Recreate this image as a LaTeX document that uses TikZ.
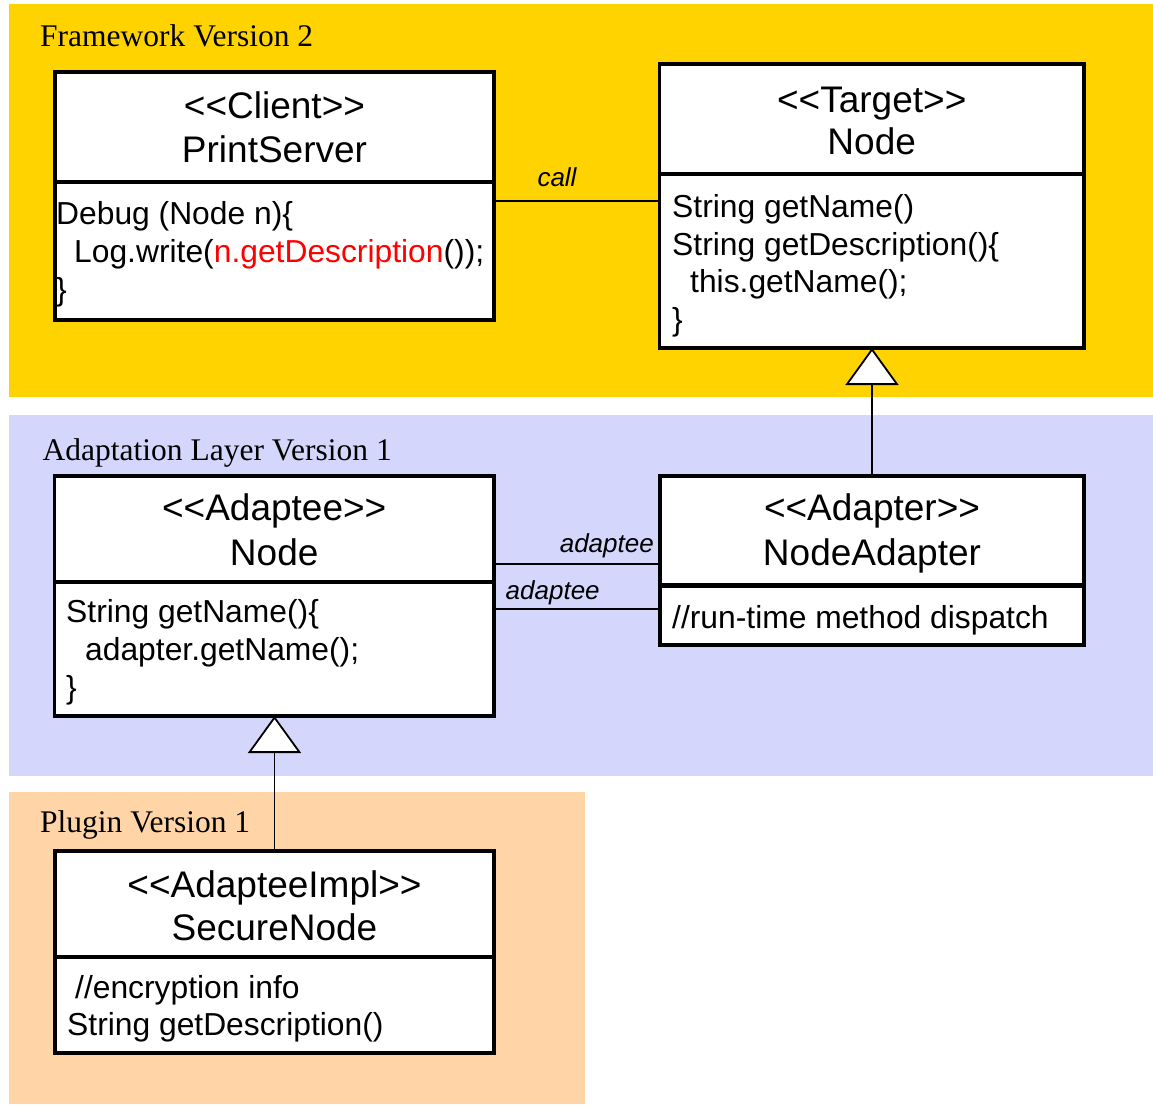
\documentclass[tikz,border=0pt]{standalone}
\usepackage{fontspec}
\setmainfont{Liberation Serif}
\setsansfont{Liberation Sans}
\usetikzlibrary{arrows.meta,calc}
\definecolor{fwyellow}{RGB}{255,211,0}
\definecolor{adlav}{RGB}{213,214,251}
\definecolor{plpeach}{RGB}{255,213,168}
\newcommand{\lsq}{\textless\kern0pt\textless}
\newcommand{\rsq}{\textgreater\kern0pt\textgreater}
\begin{document}
\begin{tikzpicture}[x=1pt,y=-1pt,
 box/.style={draw=black,line width=3.5pt,fill=white,inner sep=0pt,outer sep=0pt,anchor=north west},
 hdr/.style={font=\sffamily\fontsize{37}{44}\selectfont,inner sep=0pt,anchor=base},
 txt/.style={font=\sffamily\fontsize{31.8}{38}\selectfont,inner sep=0pt,anchor=base west},
 lbl/.style={font=\sffamily\itshape\fontsize{26}{30}\selectfont,inner sep=0pt},
 ttl/.style={font=\rmfamily\fontsize{31.5}{36}\selectfont,inner sep=0pt,anchor=base west},
 assoc/.style={line width=1.8pt},
 gen/.style={line width=1.8pt,-{Triangle[length=37pt,width=53pt,fill=white,line width=1.8pt]}}
]
\useasboundingbox (0,0) rectangle (1153,1104);
% panels
\fill[fwyellow] (9,4) rectangle (1153,397);
\fill[adlav] (9,415) rectangle (1153,776);
\fill[plpeach] (9,792) rectangle (585,1104);
\node[ttl] (t1) at (40,46) {Framework Version 2};
\node[ttl] (t2) at (42.5,460) {Adaptation Layer Version 1};
\node[ttl] (t3) at (40,832) {Plugin Version 1};

% PrintServer
\node[box,minimum width=439pt,minimum height=138pt] (psbody) at (55,182) {};
\node[box,minimum width=439pt,minimum height=110pt] (pshead) at (55,72) {};
\node[hdr] (ps1) at (274.5,118) {\lsq Client\rsq};
\node[hdr] (ps2) at (274.5,162) {PrintServer};
\node[txt] (psb1) at (56,224) {Debug (Node n)\{};
\node[txt] (psb2) at (74,262) {Log.write(\textcolor{red}{n.getDescription}());};
\node[txt] (psb3) at (56,300) {\}};

% Target
\node[box,minimum width=424.5pt,minimum height=174pt] (tgbody) at (659.5,174) {};
\node[box,minimum width=424.5pt,minimum height=110pt] (tghead) at (659.5,64) {};
\node[hdr] (tg1) at (871.7,112) {\lsq Target\rsq};
\node[hdr] (tg2) at (871.7,154) {Node};
\node[txt] (tgb1) at (672,217) {String getName()};
\node[txt] (tgb2) at (672,255) {String getDescription()\{};
\node[txt] (tgb3) at (690,292) {this.getName();};
\node[txt] (tgb4) at (672,330) {\}};

% Adaptee
\node[box,minimum width=439.5pt,minimum height=134pt] (adbody) at (54.5,582) {};
\node[box,minimum width=439.5pt,minimum height=106pt] (adhead) at (54.5,476) {};
\node[hdr] (ad1) at (274.2,520) {\lsq Adaptee\rsq};
\node[hdr] (ad2) at (274.2,565) {Node};
\node[txt] (adb1) at (66,622) {String getName()\{};
\node[txt] (adb2) at (85,660) {adapter.getName();};
\node[txt] (adb3) at (66,698) {\}};

% Adapter
\node[box,minimum width=424pt,minimum height=59pt] (arbody) at (660,586) {};
\node[box,minimum width=424pt,minimum height=109pt] (arhead) at (660,476) {};
\node[hdr] (ar1) at (872,520) {\lsq Adapter\rsq};
\node[hdr] (ar2) at (872,565) {NodeAdapter};
\node[txt] (arb1) at (672,628) {//run-time method dispatch};

% SecureNode
\node[box,minimum width=439pt,minimum height=96pt] (sebody) at (55,957) {};
\node[box,minimum width=439pt,minimum height=106pt] (sehead) at (55,851) {};
\node[hdr] (se1) at (274.5,897) {\lsq AdapteeImpl\rsq};
\node[hdr] (se2) at (274.5,940) {SecureNode};
\node[txt] (seb1) at (75,998) {//encryption info};
\node[txt] (seb2) at (67,1035) {String getDescription()};

% connectors
\coordinate (cally) at (0,200.7);
\coordinate (adA) at (0,564);
\coordinate (adB) at (0,609.3);
\draw[assoc] (psbody.east |- cally) -- (tgbody.west |- cally);
\node[lbl,anchor=base] (lcall) at (557,186) {call};
\draw[assoc] (adhead.east |- adA) -- (arhead.west |- adA);
\draw[assoc] (adbody.east |- adB) -- (arbody.west |- adB);
\node[lbl,anchor=base east] (la1) at (654,552) {adaptee};
\node[lbl,anchor=base west] (la2) at (505.5,599) {adaptee};
\draw[gen] (arhead.north) -- (arhead.north |- tgbody.south);
\draw[gen] (sehead.north) -- (sehead.north |- adbody.south);
\end{tikzpicture}
\end{document}
